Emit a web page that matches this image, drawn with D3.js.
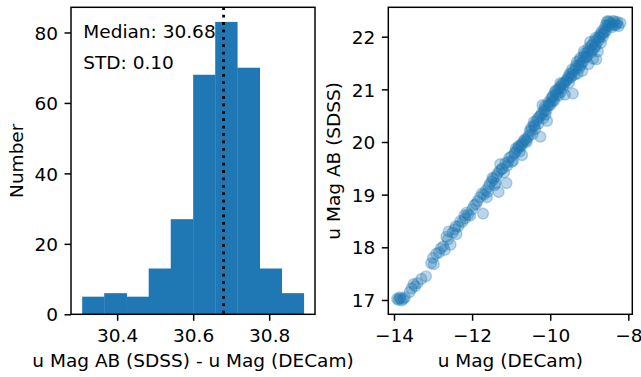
<!DOCTYPE html>
<html>
<head>
<meta charset="utf-8">
<script src="https://cdn.jsdelivr.net/npm/d3@7"></script>
<style>
  body { margin: 0; background: #fff; }
  svg { display: block; font-family: "DejaVu Sans", sans-serif; }
</style>
</head>
<body>
<svg id="chart" width="641" height="377"></svg>
<script>
// histogram: bin edges and counts
const binEdges = [30.308, 30.366, 30.425, 30.483, 30.541, 30.600, 30.658, 30.716, 30.775, 30.833, 30.891];
const binCounts = [5, 6, 5, 13, 27, 68, 83, 70, 13, 6];
const histTicksX = [30.4, 30.6, 30.8];
const histTicksY = [0, 20, 40, 60, 80];
const median = 30.68;
const stdDev = 0.10;

// scatter: u Mag (DECam) vs u Mag AB (SDSS)
const decamMag = [
  -13.92, -13.88, -13.84, -13.80, -13.76, -13.72, -13.55, -13.50, -13.46, -13.30,
  -13.18, -13.05, -13.00, -12.98, -12.92, -12.80, -12.74, -12.70, -12.66, -12.62,
  -12.55, -12.50, -12.45, -12.40, -12.30, -12.25, -12.20, -12.14, -12.10, -12.05,
  -11.90, -11.86, -11.80, -11.72, -11.70, -11.65, -11.60, -11.55, -11.50, -11.45,
  -11.40, -11.35, -11.32, -11.30, -11.28, -11.22, -11.15, -11.12, -11.10, -11.05,
  -11.00, -10.95, -10.90, -10.85, -10.80, -10.75, -10.72, -10.70, -10.65, -10.60,
  -10.55, -10.50, -10.48, -10.45, -10.40, -10.35, -10.30, -10.28, -10.25, -10.22,
  -10.20, -10.18, -10.15, -10.10, -10.08, -10.05, -10.00, -9.98, -9.95, -9.90,
  -9.88, -9.85, -9.80, -9.78, -9.75, -9.72, -9.70, -9.65, -9.62, -9.60,
  -9.55, -9.52, -9.50, -9.45, -9.42, -9.40, -9.35, -9.32, -9.30, -9.28,
  -9.25, -9.20, -9.18, -9.15, -9.10, -9.05, -9.02, -9.00, -8.98, -8.95,
  -8.92, -8.90, -8.85, -8.82, -8.80, -8.78, -8.75, -8.72, -8.70, -8.68,
  -8.65, -8.62, -8.58, -8.55, -8.52, -8.50, -8.45, -8.40, -8.35, -8.30,
  -8.25, -8.20, -10.62, -10.38, -10.12, -9.92, -9.68, -9.48, -9.22, -9.08,
  -8.88, -8.60, -11.62, -11.42, -11.18, -10.98, -10.78, -12.35, -12.85,
  -11.95, -11.75, -11.58, -11.48, -11.38, -11.25, -11.08, -10.92, -10.82, -10.68,
  -10.58, -10.52, -10.42, -10.32, -10.24, -10.16, -10.06, -10.02, -9.96, -9.93,
  -9.86, -9.82, -9.76, -9.66, -9.58, -9.53, -9.46, -9.38, -9.34, -9.26,
  -9.23, -9.16, -9.12, -9.06, -9.03, -8.96, -8.93, -8.87, -8.83, -8.76,
  -8.73, -8.66, -8.63, -8.57, -8.53, -8.48, -8.42, -8.38, -8.33, -8.28,
  -10.88, -10.74, -10.42, -10.14, -9.74, -9.44, -9.14, -8.84, -12.60, -12.42,
  -12.18, -12.00, -13.60, -13.86, -13.40
];
const sdssMag = [
  17.02, 17.00, 17.03, 16.99, 17.02, 17.05, 17.22, 17.30, 17.26, 17.40,
  17.45, 17.70, 17.80, 17.68, 17.88, 17.98, 18.02, 17.95, 18.20, 18.15,
  18.05, 18.28, 18.34, 18.25, 18.50, 18.48, 18.60, 18.66, 18.62, 18.60,
  18.82, 18.88, 18.95, 18.64, 19.00, 19.08, 19.05, 19.20, 19.25, 19.30,
  19.22, 19.40, 19.05, 19.45, 19.58, 19.50, 19.60, 19.22, 19.55, 19.70,
  19.72, 19.65, 19.80, 19.85, 19.90, 19.95, 19.75, 19.98, 20.05, 20.00,
  20.12, 20.20, 20.28, 20.15, 20.30, 20.40, 20.35, 20.48, 20.10, 20.55,
  20.70, 20.45, 20.62, 20.60, 20.40, 20.75, 20.70, 20.82, 20.85, 20.78,
  20.95, 20.92, 21.00, 20.88, 21.05, 20.95, 21.10, 21.08, 20.90, 21.15,
  21.20, 21.12, 21.30, 21.25, 20.92, 21.35, 21.40, 21.52, 21.30, 21.45,
  21.55, 21.50, 21.35, 21.62, 21.60, 21.70, 21.48, 21.75, 21.90, 21.70,
  21.85, 21.58, 21.80, 21.57, 21.95, 21.72, 22.00, 22.05, 21.88, 22.10,
  22.00, 22.15, 22.22, 22.28, 22.30, 22.20, 22.25, 22.22, 22.28, 22.24,
  22.20, 22.26, 20.02, 20.25, 20.52, 20.80, 21.02, 21.22, 21.45, 21.62,
  21.78, 22.08, 18.95, 19.18, 19.42, 19.62, 19.82, 18.40, 17.90,
  18.80, 19.02, 19.15, 19.32, 19.35, 19.48, 19.62, 19.78, 19.92, 20.02,
  20.08, 20.22, 20.32, 20.45, 20.50, 20.58, 20.68, 20.72, 20.76, 20.88,
  20.98, 20.90, 21.02, 21.12, 21.18, 21.25, 21.30, 21.28, 21.45, 21.40,
  21.60, 21.52, 21.68, 21.62, 21.78, 21.82, 21.74, 21.92, 21.85, 21.92,
  21.98, 22.05, 22.08, 22.12, 22.22, 22.28, 22.18, 22.30, 22.22, 22.28,
  19.88, 19.92, 20.38, 20.68, 21.12, 21.38, 21.72, 21.98, 18.30, 18.40,
  18.55, 18.72, 17.15, 17.05, 17.32
];
const scatterTicksX = [-14, -12, -10, -8];
const scatterTicksY = [17, 18, 19, 20, 21, 22];

const blue = '#1f77b4';
const pt = 1.85;                 // px per point in the reference
const fontPx = 10 * pt;
const tickLen = 3.5 * pt;
const lineW = 0.8 * pt;
const svg = d3.select('#chart');
const fmtMinus = d => String(d).replace('-', '\u2212');

function frame(g, x, y, w, h) {
  g.append('rect')
    .attr('x', x).attr('y', y).attr('width', w).attr('height', h)
    .attr('fill', 'none').attr('stroke', '#000').attr('stroke-width', lineW);
}

function axes(g, xScale, yScale, bottom, xTicks, yTicks, fmt) {
  const xa = g.append('g').attr('transform', `translate(0,${bottom})`)
    .call(d3.axisBottom(xScale).tickValues(xTicks).tickSize(tickLen).tickPadding(0).tickFormat(fmt));
  const left = xScale.range()[0];
  const ya = g.append('g').attr('transform', `translate(${left},0)`)
    .call(d3.axisLeft(yScale).tickValues(yTicks).tickSize(tickLen).tickPadding(tickLen).tickFormat(fmt));
  [xa, ya].forEach(a => {
    a.select('.domain').remove();
    a.selectAll('.tick line').attr('stroke', '#000').attr('stroke-width', lineW);
    a.selectAll('.tick text').attr('fill', '#000')
      .style('font-size', fontPx + 'px').style('font-family', '"DejaVu Sans", sans-serif');
  });
  xa.selectAll('.tick text').attr('dy', null).attr('y', 27.3);
  ya.selectAll('.tick text').attr('dy', '0.36em');
}

// ---------- left panel: histogram ----------
const L = { left: 71, right: 315, top: 7.3, bottom: 314.3 };
const hx = d3.scaleLinear().domain([30.2786, 30.9205]).range([L.left, L.right]);
const hy = d3.scaleLinear().domain([0, 87.15]).range([L.bottom, L.top]);
const gL = svg.append('g');

const bins = binCounts.map((c, i) => ({ x0: binEdges[i], x1: binEdges[i + 1], n: c }));
gL.selectAll('rect.bar')
  .data(bins)
  .enter()
  .append('rect')
  .attr('class', 'bar')
  .attr('x', d => hx(d.x0))
  .attr('y', d => hy(d.n))
  .attr('width', d => hx(d.x1) - hx(d.x0) + 0.3)
  .attr('height', d => hy(0) - hy(d.n))
  .attr('fill', blue);

gL.append('line')
  .attr('x1', hx(median)).attr('x2', hx(median))
  .attr('y1', L.top).attr('y2', L.bottom)
  .attr('stroke', '#000').attr('stroke-width', 2.8)
  .attr('stroke-dasharray', '2.8,4.6');

gL.append('text').attr('x', 83.3).attr('y', 38.3)
  .style('font-size', fontPx + 'px').text('Median: ' + median.toFixed(2));
gL.append('text').attr('x', 83.3).attr('y', 69)
  .style('font-size', fontPx + 'px').text('STD: ' + stdDev.toFixed(2));

frame(gL, L.left, L.top, L.right - L.left, L.bottom - L.top);
axes(gL, hx, hy, L.bottom, histTicksX, histTicksY, d => String(d));

gL.append('text')
  .attr('x', (L.left + L.right) / 2).attr('y', 367)
  .attr('text-anchor', 'middle').style('font-size', fontPx + 'px')
  .text('u Mag AB (SDSS) - u Mag (DECam)');
gL.append('text')
  .attr('transform', `translate(22.7,${(L.top + L.bottom) / 2}) rotate(-90)`)
  .attr('text-anchor', 'middle').style('font-size', fontPx + 'px')
  .text('Number');

// ---------- right panel: scatter ----------
const R = { left: 388.3, right: 632.3, top: 7.3, bottom: 314.3 };
const sx = d3.scaleLinear().domain([-14.146, -7.898]).range([R.left, R.right]);
const sy = d3.scaleLinear().domain([16.728, 22.558]).range([R.bottom, R.top]);
const gR = svg.append('g');

const pts = decamMag.map((x, i) => ({ x: x, y: sdssMag[i] }));
gR.selectAll('circle')
  .data(pts)
  .enter()
  .append('circle')
  .attr('cx', d => sx(d.x))
  .attr('cy', d => sy(d.y))
  .attr('r', 5.4)
  .attr('fill', blue).attr('fill-opacity', 0.3)
  .attr('stroke', blue).attr('stroke-opacity', 0.3).attr('stroke-width', 1.4);

frame(gR, R.left, R.top, R.right - R.left, R.bottom - R.top);
axes(gR, sx, sy, R.bottom, scatterTicksX, scatterTicksY, fmtMinus);

gR.append('text')
  .attr('x', (R.left + R.right) / 2).attr('y', 367)
  .attr('text-anchor', 'middle').style('font-size', fontPx + 'px')
  .text('u Mag (DECam)');
gR.append('text')
  .attr('transform', `translate(340,${(R.top + R.bottom) / 2}) rotate(-90)`)
  .attr('text-anchor', 'middle').style('font-size', fontPx + 'px')
  .text('u Mag AB (SDSS)');
</script>
</body>
</html>
